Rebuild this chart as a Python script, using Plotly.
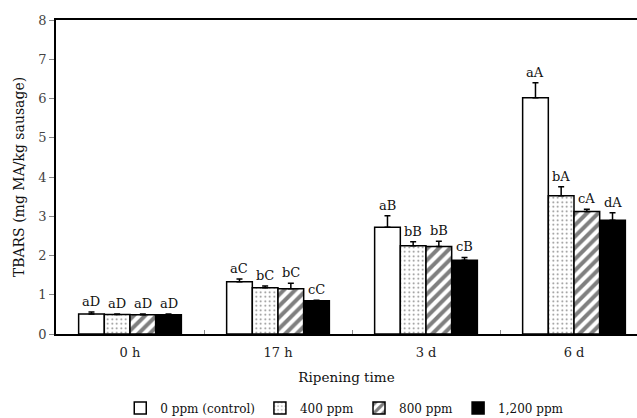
import plotly.graph_objects as go

categories = ["0 h", "17 h", "3 d", "6 d"]
series_names = ["0 ppm (control)", "400 ppm", "800 ppm", "1,200 ppm"]

v_0ppm = [0.51, 1.33, 2.72, 6.02]
v_400ppm = [0.50, 1.18, 2.25, 3.52]
v_800ppm = [0.49, 1.15, 2.23, 3.12]
v_1200ppm = [0.49, 0.85, 1.88, 2.90]

e_0ppm = [0.05, 0.07, 0.29, 0.38]
e_400ppm = [0.01, 0.04, 0.10, 0.23]
e_800ppm = [0.02, 0.14, 0.13, 0.06]
e_1200ppm = [0.02, 0.01, 0.07, 0.19]

l_0ppm = ["aD", "aC", "aB", "aA"]
l_400ppm = ["aD", "bC", "bB", "bA"]
l_800ppm = ["aD", "bC", "bB", "cA"]
l_1200ppm = ["aD", "cC", "cB", "dA"]

values = [v_0ppm, v_400ppm, v_800ppm, v_1200ppm]
errors = [e_0ppm, e_400ppm, e_800ppm, e_1200ppm]
letters = [l_0ppm, l_400ppm, l_800ppm, l_1200ppm]

FONT = "DejaVu Serif"
styles = [
    dict(color="white", pattern=None),
    dict(color="white", pattern=dict(shape=".", fgcolor="black", bgcolor="white", size=4.5, solidity=0.12)),
    dict(color="white", pattern=dict(shape="/", fgcolor="black", bgcolor="white", size=8, solidity=0.5)),
    dict(color="black", pattern=None),
]

bargap = 0.306
nser = len(values)
bw = (1 - bargap) / nser

fig = go.Figure()
for s in range(nser):
    marker = dict(color=styles[s]["color"], line=dict(color="black", width=1.5))
    if styles[s]["pattern"]:
        marker["pattern"] = styles[s]["pattern"]
    fig.add_trace(go.Bar(
        name=series_names[s], x=categories, y=values[s],
        marker=marker,
        error_y=dict(type="data", array=errors[s], arrayminus=[0] * len(errors[s]),
                     symmetric=False, color="black", thickness=1.5, width=3),
    ))

annotations = []
for s in range(nser):
    for i in range(len(categories)):
        xc = i + (-(nser - 1) / 2 + s) * bw
        annotations.append(dict(
            x=xc, y=values[s][i] + errors[s][i], xref="x", yref="y",
            text=letters[s][i], showarrow=False, yanchor="bottom", yshift=1,
            font=dict(family=FONT, size=13, color="#111"),
        ))

W, H = 637, 418
L, T, B = 56, 20, 84
plot_w = W - L
cat_px = 148.0
x_hi = -0.5 + plot_w / cat_px

fig.update_layout(
    width=W, height=H,
    margin=dict(l=L, r=0, t=T, b=B, pad=0),
    plot_bgcolor="white", paper_bgcolor="white",
    barmode="group", bargap=bargap, bargroupgap=0,
    font=dict(family=FONT, size=13, color="#111"),
    annotations=annotations,
    showlegend=True,
    legend=dict(orientation="h", x=0.497, xanchor="center",
                yref="container", y=10 / H, yanchor="middle",
                font=dict(family=FONT, size=12, color="#111"), itemwidth=30, tracegroupgap=0,
                itemclick=False),
    xaxis=dict(
        type="category", range=[-0.5, x_hi], automargin=False,
        showline=True, linecolor="black", linewidth=1.5, mirror=True,
        ticks="inside", tickson="boundaries", ticklen=4, tickcolor="#888",
        ticklabelstandoff=6,
        title=dict(text="Ripening time", font=dict(family=FONT, size=13.5), standoff=13),
        tickfont=dict(family=FONT, size=13, color="#222"),
    ),
    yaxis=dict(
        range=[0, 8], dtick=1, showgrid=False, zeroline=False, automargin=False,
        showline=True, linecolor="black", linewidth=1.5,
        ticks="outside", ticklen=5, tickcolor="#888",
        title=dict(text="TBARS (mg MA/kg sausage)", font=dict(family=FONT, size=14), standoff=10),
        tickfont=dict(family=FONT, size=13, color="#444"),
    ),
)

fig.write_html("out.html")
